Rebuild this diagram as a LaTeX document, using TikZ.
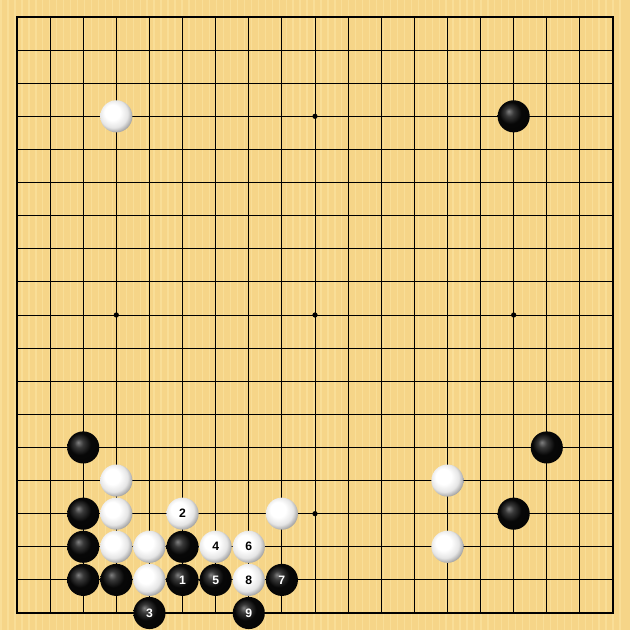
\documentclass[tikz,border=0pt]{standalone}
\usepackage{fontspec}
\setsansfont{Liberation Sans}
\definecolor{wood}{RGB}{246,213,136}
\definecolor{woodlight}{RGB}{252,230,165}
\pgfdeclareradialshading{wball}{\pgfpoint{-8bp}{8bp}}{color(0bp)=(white); color(12bp)=(white); color(22bp)=(black!10); color(31bp)=(black!45); color(50bp)=(black!45)}
\pgfdeclareradialshading{bball}{\pgfpoint{-8bp}{8bp}}{color(0bp)=(black!50); color(7bp)=(black!78); color(17bp)=(black!97); color(50bp)=(black)}
\tikzset{
  gridline/.style={line width=0.8pt,black},
  edgeline/.style={line width=1.7pt,black},
  starpt/.style={circle,fill=black,inner sep=0pt,minimum size=4.5pt},
  bstone/.style={circle,inner sep=0pt,minimum size=0.97cm,shading=bball,text=white,font=\sffamily\bfseries\fontsize{10.5}{12}\selectfont},
  wstone/.style={circle,inner sep=0pt,minimum size=0.97cm,shading=wball,text=black,font=\sffamily\bfseries\fontsize{10.5}{12}\selectfont},
}
\begin{document}
\begin{tikzpicture}[x=1cm,y=-1cm]
\fill[wood] (-0.5134,-0.5134) rectangle (18.5134,18.5134);
\useasboundingbox (-0.5134,-0.5134) rectangle (18.5134,18.5134);
\foreach \s in {0,0.21,...,18.9}{\fill[woodlight,opacity=0.55] (\s-0.5,-0.5134) rectangle (\s-0.46,18.5134);}
\foreach \i in {1,...,17}{
  \draw[gridline] (\i,0) -- (\i,18);
  \draw[gridline] (0,\i) -- (18,\i);
}
\draw[edgeline] (0,0) rectangle (18,18);
\foreach \a in {3,9,15}{\foreach \b in {3,9,15}{\node[starpt] (star-\a-\b) at (\a,\b) {};}}
% stones: (col,row) zero-based
\node[wstone] (w1) at (3,3) {};
\node[bstone] (b1) at (15,3) {};
\node[bstone] (b2) at (2,13) {};
\node[bstone] (b3) at (16,13) {};
\node[wstone] (w2) at (3,14) {};
\node[wstone] (w3) at (13,14) {};
\node[bstone] (b4) at (2,15) {};
\node[wstone] (w4) at (3,15) {};
\node[wstone] (m2) at (5,15) {2};
\node[wstone] (w5) at (8,15) {};
\node[bstone] (b5) at (15,15) {};
\node[bstone] (b6) at (2,16) {};
\node[wstone] (w6) at (3,16) {};
\node[wstone] (w7) at (4,16) {};
\node[bstone] (b7) at (5,16) {};
\node[wstone] (m4) at (6,16) {4};
\node[wstone] (m6) at (7,16) {6};
\node[wstone] (w8) at (13,16) {};
\node[bstone] (b8) at (2,17) {};
\node[bstone] (b9) at (3,17) {};
\node[wstone] (w9) at (4,17) {};
\node[bstone] (m1) at (5,17) {1};
\node[bstone] (m5) at (6,17) {5};
\node[wstone] (m8) at (7,17) {8};
\node[bstone] (m7) at (8,17) {7};
\node[bstone] (m3) at (4,18) {3};
\node[bstone] (m9) at (7,18) {9};
\end{tikzpicture}
\end{document}
